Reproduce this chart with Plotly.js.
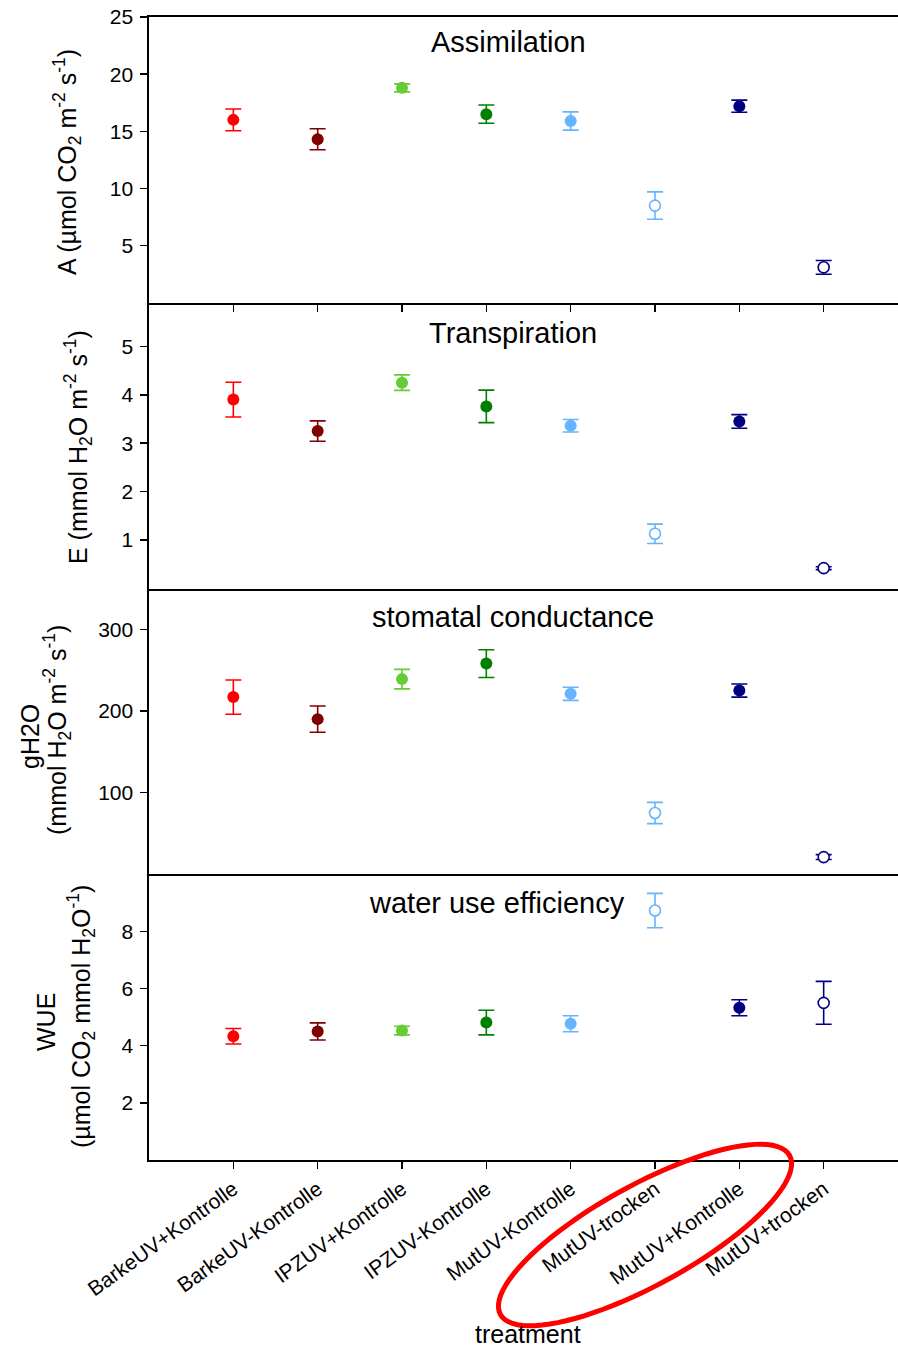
<!DOCTYPE html>
<html>
<head>
<meta charset="utf-8">
<script src="https://cdn.plot.ly/plotly-3.0.1.min.js"></script>
<style>
html,body{margin:0;padding:0;overflow:hidden;background:#fff;}
#chart{width:908px;height:1349px;}
</style>
</head>
<body>
<div id="chart"></div>
<script>
// ---- data ----
var categories = ["BarkeUV+Kontrolle","BarkeUV-Kontrolle","IPZUV+Kontrolle","IPZUV-Kontrolle","MutUV-Kontrolle","MutUV-trocken","MutUV+Kontrolle","MutUV+trocken"];
var seriesColors = ["#ff0000","#800000","#66cc33","#008000","#66b3ff","#66b3ff","#000080","#000080"];
var filled = [true,true,true,true,true,false,true,false];

var A_mean = [16.0, 14.3, 18.8, 16.5, 15.9, 8.5, 17.2, 3.1];
var A_err  = [0.95, 0.92, 0.35, 0.8, 0.8, 1.2, 0.53, 0.6];
var E_mean = [3.90, 3.25, 4.25, 3.76, 3.36, 1.13, 3.45, 0.42];
var E_err  = [0.36, 0.21, 0.16, 0.335, 0.13, 0.2, 0.14, 0.03];
var g_mean = [217, 190, 239, 258, 221, 75, 225, 21];
var g_err  = [21, 16, 12, 17, 8, 13, 8, 3];
var WUE_mean = [4.33, 4.50, 4.53, 4.81, 4.77, 8.73, 5.33, 5.50];
var WUE_err  = [0.27, 0.30, 0.15, 0.43, 0.28, 0.60, 0.28, 0.75];

var panelTitles = ["Assimilation","Transpiration","stomatal conductance","water use efficiency"];
var tickA = [5,10,15,20,25];
var tickE = [1,2,3,4,5];
var tickG = [100,200,300];
var tickW = [2,4,6,8];

// ---- build ----
var FONT = "Arial, 'Liberation Sans', sans-serif";
var panels = [
  {mean:A_mean, err:A_err, xa:'x', ya:'y'},
  {mean:E_mean, err:E_err, xa:'x2', ya:'y2'},
  {mean:g_mean, err:g_err, xa:'x3', ya:'y3'},
  {mean:WUE_mean, err:WUE_err, xa:'x4', ya:'y4'}
];
var traces = [];
panels.forEach(function(p){
  categories.forEach(function(c,i){
    var col = seriesColors[i];
    traces.push({
      type:'scatter', mode:'markers',
      x:[c], y:[p.mean[i]], xaxis:p.xa, yaxis:p.ya,
      showlegend:false, hoverinfo:'x+y',
      error_y:{type:'data', array:[p.err[i]], visible:true, color:col, thickness:1.6, width:8},
      marker:{symbol:'circle', size: filled[i]?12:11, color: filled[i]?col:'#ffffff',
              line:{color:col, width: filled[i]?0:1.6}}
    });
  });
});

var W = 908, H = 1349, ML = 149, MT = 17, MB = 189;
var PW = W - ML, PH = H - MT - MB;
function px(x){ return (x - ML)/PW; }
function py(y){ return (H - MB - y)/PH; }

var baseX = {type:'category', categoryorder:'array', categoryarray:categories,
  range:[-1,8], showline:true, linecolor:'#000', linewidth:1.6, showgrid:false, zeroline:false,
  ticks:'', showticklabels:false, fixedrange:true};
function xa(opts){ return Object.assign({}, baseX, opts); }
function ya(dom, rng, tv){
  return {domain:dom, range:rng, tickmode:'array', tickvals:tv, ticks:'outside', ticklen:7, tickwidth:1.5,
    tickcolor:'#000', showline:true, linecolor:'#000', linewidth:1.6, showgrid:false, zeroline:false,
    ticklabelstandoff:3,
    tickfont:{family:FONT, size:21, color:'#000'}, fixedrange:true};
}

// ellipse annotation path (highlight ring)
var ecx = 645, ecy = 1235, ea = 165, eb = 50, eth = 28.8*Math.PI/180;
var pts = [];
for (var k=0;k<=90;k++){
  var t = 2*Math.PI*k/90;
  var X = ecx + ea*Math.cos(t)*Math.cos(eth) - eb*Math.sin(t)*Math.sin(eth);
  var Y = ecy - ea*Math.cos(t)*Math.sin(eth) - eb*Math.sin(t)*Math.cos(eth);
  pts.push((k?'L':'M') + px(X).toFixed(5) + ',' + py(Y).toFixed(5));
}
var ellipsePath = pts.join(' ') + ' Z';

function ann(text, x, y, size, angle){
  return {text:text, xref:'paper', yref:'paper', x:px(x), y:py(y), xanchor:'center', yanchor:'middle',
    showarrow:false, textangle:angle||0, font:{family:FONT, size:size, color:'#000'}};
}

var layout = {
  width:W, height:H, margin:{l:ML, r:0, t:MT, b:MB, pad:0},
  paper_bgcolor:'#fff', plot_bgcolor:'#fff', showlegend:false,
  font:{family:FONT, color:'#000'},
  xaxis: xa({anchor:'y', mirror:true, ticks:'outside', ticklen:7, tickwidth:1.5, tickcolor:'#000', linewidth:2}),
  xaxis2: xa({anchor:'y2', matches:'x', linewidth:2}),
  xaxis3: xa({anchor:'y3', matches:'x', linewidth:2}),
  xaxis4: xa({anchor:'y4', matches:'x', ticks:'outside', ticklen:7, tickwidth:1.5, tickcolor:'#000',
              showticklabels:true, tickangle:-36, tickfont:{family:FONT, size:21, color:'#000'}}),
  yaxis: ya([0.75,1], [0,25], tickA),
  yaxis2: ya([0.5,0.75], [0,5.9], tickE),
  yaxis3: ya([0.25,0.5], [0,350], tickG),
  yaxis4: ya([0,0.25], [0,10], tickW),
  annotations:[
    ann(panelTitles[0], 508, 42, 29),
    ann(panelTitles[1], 513, 333, 29),
    ann(panelTitles[2], 513, 617, 29),
    ann(panelTitles[3], 497, 903, 29),
    ann('A (µmol CO<sub>2</sub> m<sup>-2</sup> s<sup>-1</sup>)', 67, 162, 25, -90),
    ann('E (mmol H<sub>2</sub>O m<sup>-2</sup> s<sup>-1</sup>)', 78, 447, 25, -90),
    ann('gH2O', 30, 737, 25, -90),
    ann('(mmol H<sub>2</sub>O m<sup>-2</sup> s<sup>-1</sup>)', 57, 730, 25, -90),
    ann('WUE', 46, 1022, 25, -90),
    ann('(µmol CO<sub>2</sub> mmol H<sub>2</sub>O<sup>-1</sup>)', 81, 1017, 25, -90),
    ann('treatment', 528, 1334, 25)
  ],
  shapes:[
    {type:'path', xref:'paper', yref:'paper', path:ellipsePath, layer:'above',
     line:{color:'#ff0000', width:5}, fillcolor:'rgba(0,0,0,0)'}
  ]
};

Plotly.newPlot('chart', traces, layout, {displayModeBar:false, staticPlot:true});
</script>
</body>
</html>
